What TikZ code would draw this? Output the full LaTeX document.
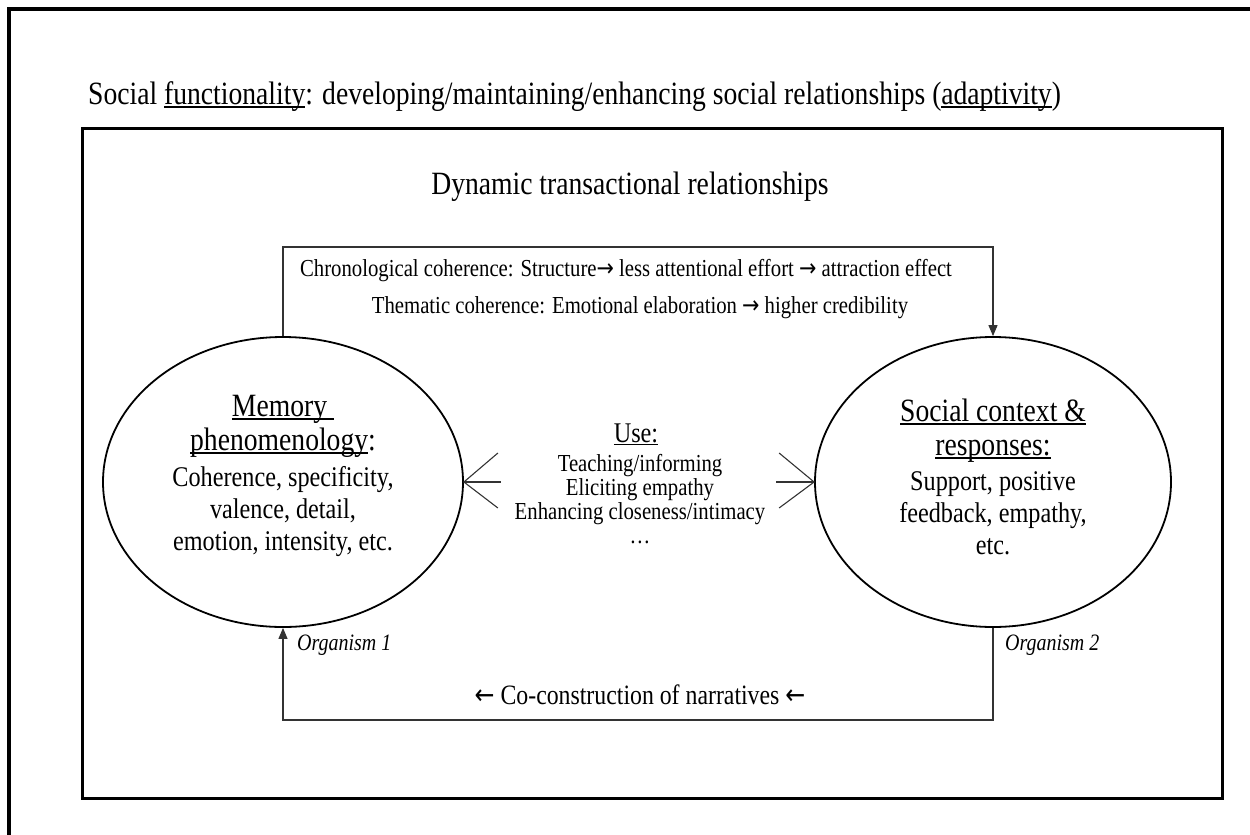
\documentclass[tikz,border=0pt]{standalone}
\usepackage{fontspec}
\setmainfont[FakeStretch=0.85]{Liberation Serif}
\newfontfamily\arrowfont[FakeStretch=0.85]{DejaVu Sans}
\usetikzlibrary{shapes.geometric,arrows.meta,calc}

\newcommand{\fs}[2]{\fontsize{#1}{#2}\selectfont}
% underline at a fixed depth below the baseline
\newcommand{\uln}[1]{\leavevmode\setbox0=\hbox{#1}\rlap{\rule[-0.12em]{\wd0}{0.05em}}\box0}
\newcommand{\ra}{{\arrowfont →}}
\newcommand{\la}{{\arrowfont ←}}

\begin{document}
\begin{tikzpicture}[x=1pt,y=-1pt,
  frame/.style={line width=4pt,black},
  panel/.style={line width=3pt,black},
  bubble/.style={ellipse,draw,line width=1.8pt,inner sep=0pt},
  conn/.style={line width=1.1pt,draw=black!80},
  tip/.style={-{Triangle[length=11pt,width=9pt]}},
  opentip/.style={line width=1.1pt,draw=black!80},
  txt/.style={inner sep=0pt,anchor=base},
  big/.style={txt,font=\fs{32.5}{38}},
  body/.style={txt,font=\fs{28.5}{33}},
  head/.style={txt,font=\fs{32.5}{38}},
  mid/.style={txt,font=\fs{24.4}{28}},
  captext/.style={txt,font=\fs{24.4}{28}},
  org/.style={inner sep=0pt,anchor=base west,font=\fs{23.5}{27}\itshape}]

\useasboundingbox (0,0) rectangle (1250,835);

% page frame, running off the top and left edges
\draw[frame] (7,9) -- (1252,9);
\draw[frame] (9,7) -- (9,837);

% title above the panel
\node[big,anchor=base west] (title) at (88,104)
  {Social \uln{functionality}: developing/maintaining/enhancing social relationships (\uln{adaptivity})};

% panel
\draw[panel] (82,128) rectangle (1222,798);
\node[big] (dyn) at (630,194) {Dynamic transactional relationships};

% the two organisms
\node[bubble,minimum width=360pt,minimum height=290pt] (L) at (283,482) {};
\node[bubble,minimum width=356pt,minimum height=290pt] (R) at (993,482) {};

\node[head] (l1) at (283,416) {\uln{Memory\ }};
\node[head] (l2) at (283,450) {\uln{phenomenology}:};
\node[body] (l3) at (283,486) {Coherence, specificity,};
\node[body] (l4) at (283,518) {valence, detail,};
\node[body] (l5) at (283,550) {emotion, intensity, etc.};

\node[head] (r1) at (993,421) {\uln{Social context \&}};
\node[head] (r2) at (993,455) {\uln{responses:}};
\node[body] (r3) at (993,490) {Support, positive};
\node[body] (r4) at (993,522) {feedback, empathy,};
\node[body] (r5) at (993,554) {etc.};

% uses in between
\node[txt,font=\fs{28.5}{33}] (use) at (636,442) {\uln{Use:}};
\node[mid] (u1) at (640,471) {Teaching/informing};
\node[mid] (u2) at (640,495) {Eliciting empathy};
\node[mid] (u3) at (640,519) {Enhancing closeness/intimacy};
\node[mid] (u4) at (640,543) {\dots};

% open arrowheads pointing into both organisms
\coordinate (la1) at ($(L.east)+(34,-29)$);
\coordinate (la2) at ($(L.east)+(37,0)$);
\coordinate (la3) at ($(L.east)+(34,26)$);
\draw[opentip] (la1) -- (L.east) -- (la3);
\draw[opentip] (la2) -- (L.east);
\coordinate (ra1) at ($(R.west)+(-35,-29)$);
\coordinate (ra2) at ($(R.west)+(-38,0)$);
\coordinate (ra3) at ($(R.west)+(-35,26)$);
\draw[opentip] (ra1) -- (R.west) -- (ra3);
\draw[opentip] (ra2) -- (R.west);

% top loop: from memory to social context
\coordinate (topy) at (0,247);
\draw[conn,tip] (L.north) -- (L.north |- topy) -| (R.north);
\node[captext] (chron) at (626,276)
  {Chronological coherence: Structure\ra{} less attentional effort \ra{} attraction effect};
\node[captext] (them) at (640,313)
  {Thematic coherence: Emotional elaboration \ra{} higher credibility};

% bottom loop: back from social context to memory
\coordinate (boty) at (0,720);
\draw[conn,tip] (R.south) -- (R.south |- boty) -| (L.south);
\node[txt,font=\fs{28}{32}] (co) at (640,704) {\la{} Co-construction of narratives \la};

\node[org] (o1) at (297,650) {Organism 1};
\node[org] (o2) at (1005,650) {Organism 2};

\end{tikzpicture}
\end{document}
